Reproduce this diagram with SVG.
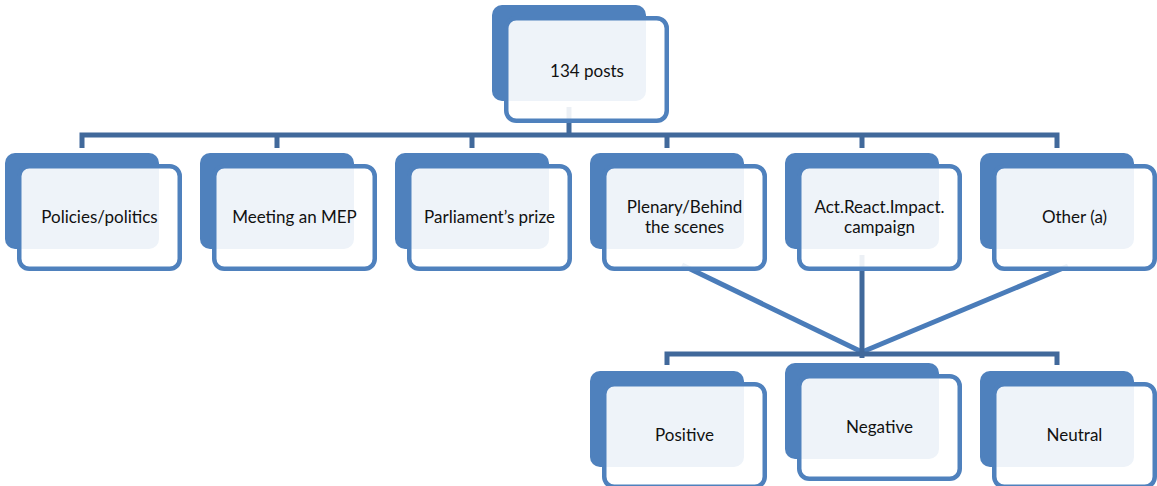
<svg xmlns="http://www.w3.org/2000/svg" xmlns:xlink="http://www.w3.org/1999/xlink" width="1157" height="486" viewBox="0 0 1157 486">
  <style>
    .back { fill: #4F81BD; }
    .front { fill: #FFFFFF; fill-opacity: 0.9; stroke: #4F81BD; stroke-width: 4.5; }
    .conn { fill: none; stroke: #41699B; stroke-width: 5; stroke-linejoin: miter; }
    .diag { fill: none; stroke: #4A7CB9; stroke-width: 5; }
    .lbl { font-family: Lato, "Liberation Sans", sans-serif; font-size: 17px; fill: #111111; text-anchor: middle; }
  </style>
  <defs>
    <g id="shape">
      <rect class="back" x="0" y="0" width="154" height="96" rx="10" ry="10"/>
      <rect class="front" x="14.25" y="13.25" width="160.5" height="102.5" rx="10" ry="10"/>
    </g>
  </defs>
  <rect width="1157" height="486" fill="#FFFFFF"/>

  <g id="connectors">
    <path class="conn" d="M569,107 V135"/>
    <path class="conn" d="M82,148 V135 H1057 V148"/>
    <path class="conn" d="M277,135 V148 M472,135 V148 M667,135 V148 M862,135 V148"/>
    <path class="diag" d="M682,265 L862,352"/>
    <path class="diag" d="M1068,266 L862,352"/>
    <path class="conn" d="M862,255 V358"/>
    <path class="conn" d="M667,365 V354 H1057 V365"/>
  </g>

  <g id="node-root" transform="translate(492,5)">
    <use xlink:href="#shape"/>
  </g>
  <text class="lbl" x="587" y="77">134 posts</text>

  <g id="node-policies">
    <use xlink:href="#shape" transform="translate(5,153)"/>
    <text class="lbl" x="99.5" y="223">Policies/politics</text>
  </g>
  <g id="node-meeting">
    <use xlink:href="#shape" transform="translate(200,153)"/>
    <text class="lbl" x="294.5" y="223">Meeting an MEP</text>
  </g>
  <g id="node-prize">
    <use xlink:href="#shape" transform="translate(395,153)"/>
    <text class="lbl" x="489.5" y="223">Parliament’s prize</text>
  </g>
  <g id="node-plenary">
    <use xlink:href="#shape" transform="translate(590,153)"/>
    <text class="lbl" x="684.5" y="213">Plenary/Behind</text>
    <text class="lbl" x="684.5" y="233">the scenes</text>
  </g>
  <g id="node-campaign">
    <use xlink:href="#shape" transform="translate(785,153)"/>
    <text class="lbl" x="879.5" y="213">Act.React.Impact.</text>
    <text class="lbl" x="879.5" y="233">campaign</text>
  </g>
  <g id="node-other">
    <use xlink:href="#shape" transform="translate(980,153)"/>
    <text class="lbl" x="1074.5" y="223">Other (a)</text>
  </g>

  <g id="node-positive">
    <use xlink:href="#shape" transform="translate(590,371)"/>
    <text class="lbl" x="684.5" y="441">Positive</text>
  </g>
  <g id="node-negative">
    <use xlink:href="#shape" transform="translate(785,363)"/>
    <text class="lbl" x="879.5" y="433">Negative</text>
  </g>
  <g id="node-neutral">
    <use xlink:href="#shape" transform="translate(980,371)"/>
    <text class="lbl" x="1074.5" y="441">Neutral</text>
  </g>
</svg>
